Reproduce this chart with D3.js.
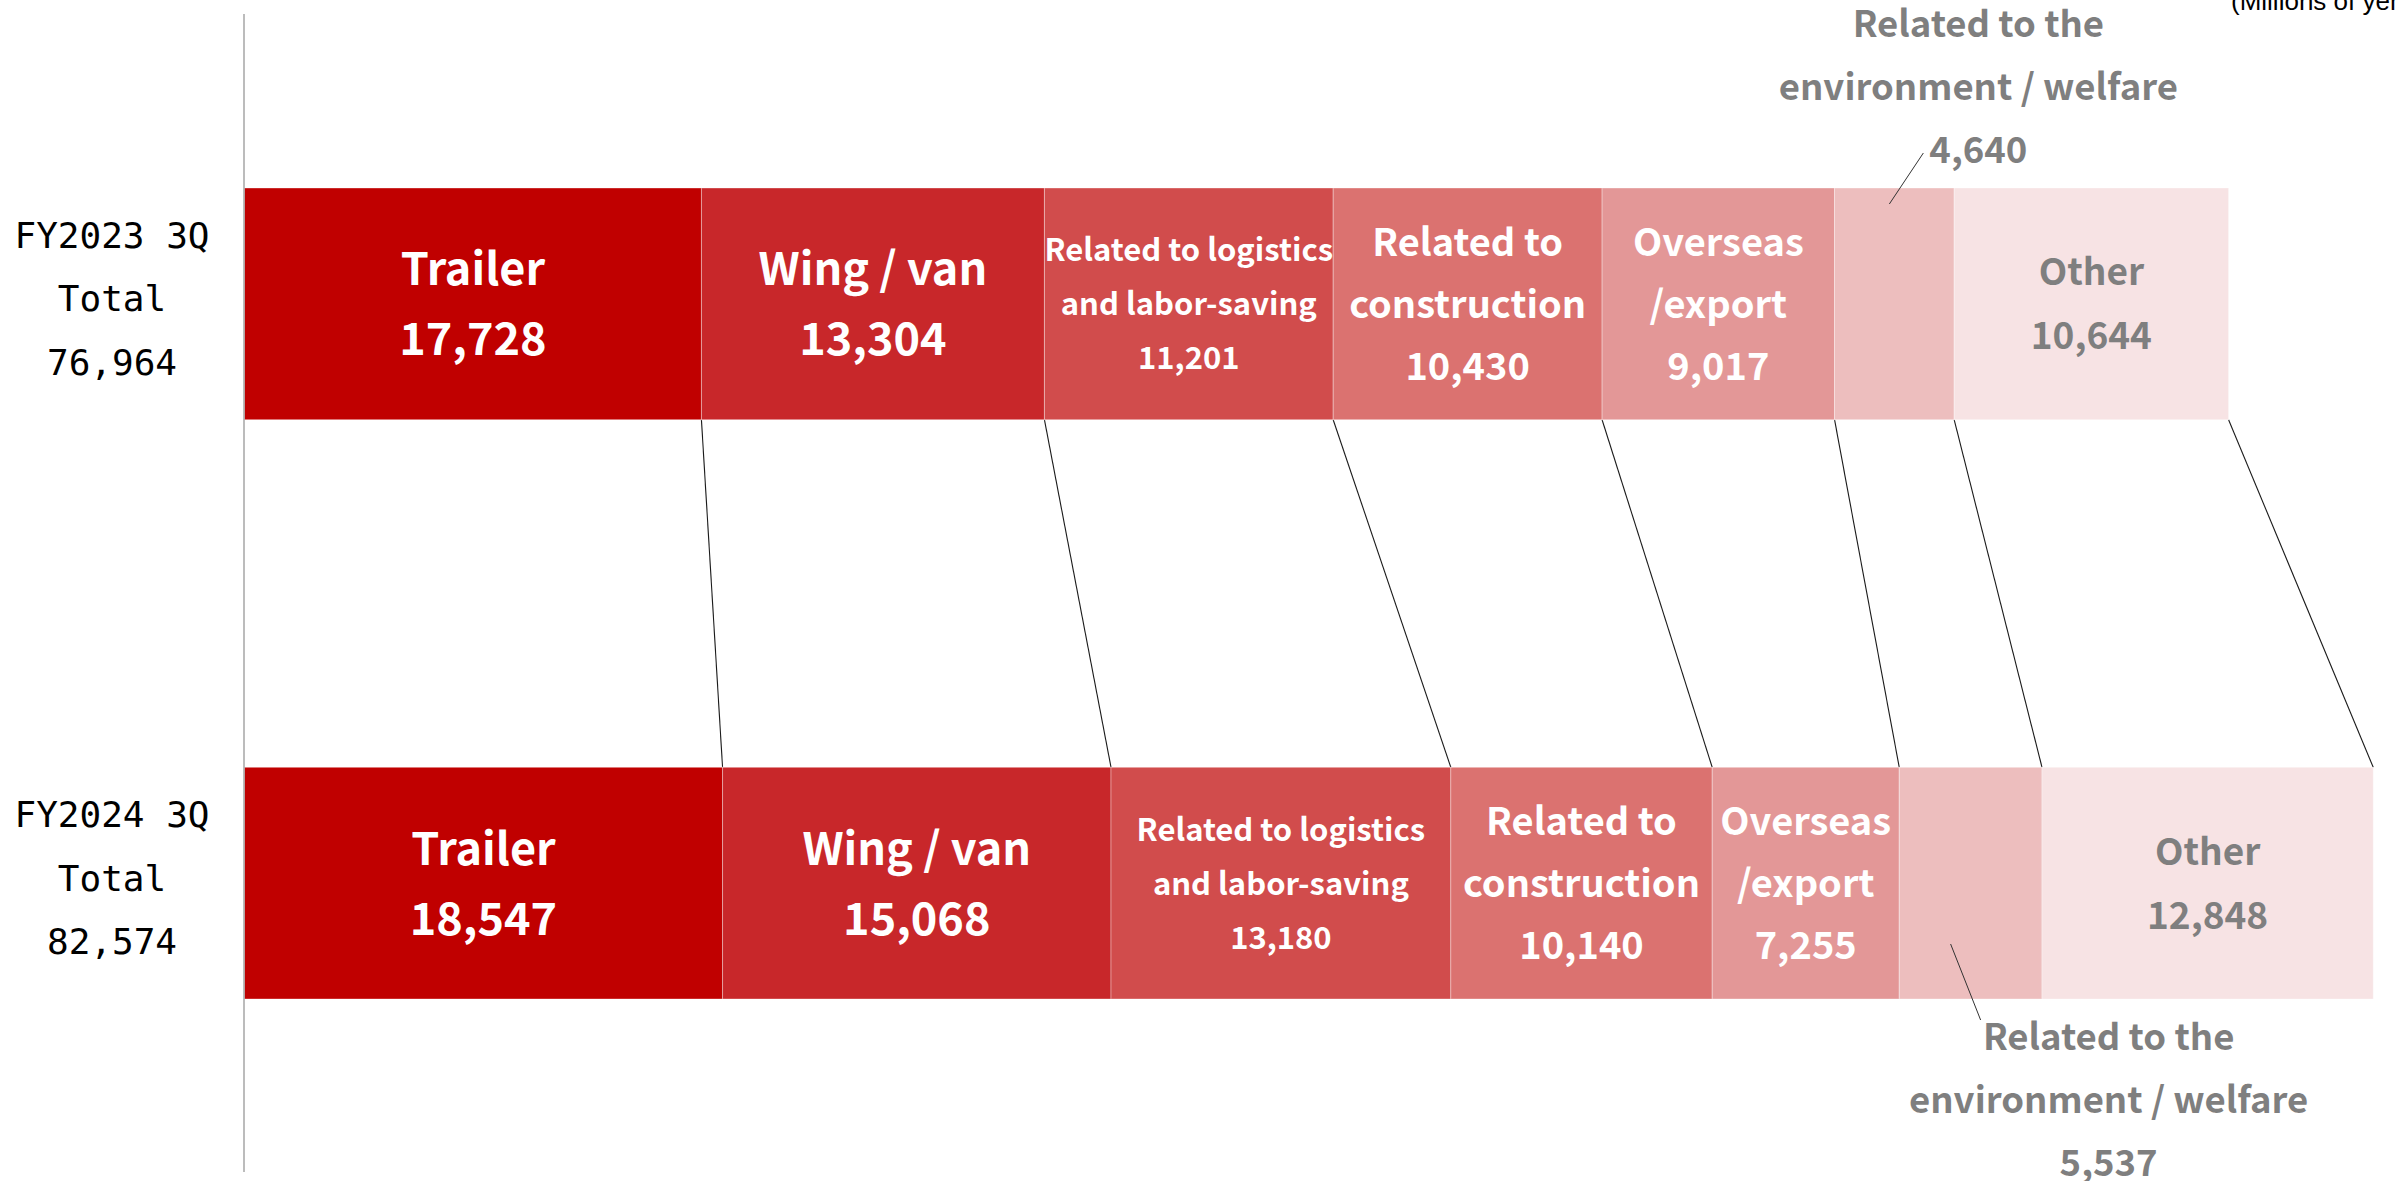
<!DOCTYPE html>
<html>
<head>
<meta charset="utf-8">
<script src="https://cdn.jsdelivr.net/npm/d3@7"></script>
<style>
  html, body { margin: 0; padding: 0; background: #ffffff; }
  svg { display: block; }
</style>
</head>
<body>
<svg id="chart" width="2395" height="1181"></svg>
<script>
// ---------------- DATA ----------------
const periods = ["FY2023 3Q", "FY2024 3Q"];
const totals = [76964, 82574];
const categories = ["Trailer", "Wing / van", "Related to logistics and labor-saving",
  "Related to construction", "Overseas /export", "Related to the environment / welfare", "Other"];
const categoryLines = [
  ["Trailer"],
  ["Wing / van"],
  ["Related to logistics", "and labor-saving"],
  ["Related to", "construction"],
  ["Overseas", "/export"],
  ["Related to the", "environment / welfare"],
  ["Other"]
];
const values2023 = [17728, 13304, 11201, 10430, 9017, 4640, 10644];
const values2024 = [18547, 15068, 13180, 10140, 7255, 5537, 12848];
const unitLabel = "(Millions of yen)";

// ---------------- STYLE ----------------
const colors = ["#C00000", "#C8272A", "#D14C4C", "#DB7270", "#E39797", "#EDBEBE", "#F7E3E4"];
const textColors = ["#fff", "#fff", "#fff", "#fff", "#fff", "#7F7F7F", "#7F7F7F"];
const fontSizes = [45, 45, 31, 38, 38, 36.5, 37];
const lineHeights = [70, 70, 54, 62, 62, 63, 64];
const FONT = "'Noto Sans CJK JP', 'Noto Sans', sans-serif";

const svg = d3.select("#chart");
const series = [values2023, values2024];

const x = d3.scaleLinear().domain([0, d3.max(totals)]).range([244.4, 2373.2]);
const y = d3.scaleBand().domain(periods).range([188, 999]).paddingInner(0.6).paddingOuter(0);

// stacked segments
const stacks = series.map(vals => {
  let acc = 0;
  return vals.map((v, i) => { const s = { i, v, x0: acc, x1: acc + v }; acc += v; return s; });
});

// connector lines between segment right edges
const gConn = svg.append("g");
categories.forEach((c, i) => {
  gConn.append("line")
    .attr("x1", x(stacks[0][i].x1)).attr("y1", y(periods[0]) + y.bandwidth())
    .attr("x2", x(stacks[1][i].x1)).attr("y2", y(periods[1]))
    .attr("stroke", "#1a1a1a").attr("stroke-width", 1.1);
});

// bars
periods.forEach((p, pi) => {
  const g = svg.append("g");
  g.selectAll("rect").data(stacks[pi]).join("rect")
    .attr("x", d => x(d.x0))
    .attr("y", y(p))
    .attr("width", d => x(d.x1) - x(d.x0))
    .attr("height", y.bandwidth())
    .attr("fill", d => colors[d.i])
    .attr("stroke", "#ffffff").attr("stroke-opacity", 0.35).attr("stroke-width", 1);
});

// axis line (category axis without ticks)
svg.append("line")
  .attr("x1", 244).attr("x2", 244).attr("y1", 14).attr("y2", 1172)
  .attr("stroke", "#A6A6A6").attr("stroke-width", 1.5);

// labels inside segments
const fmt = d3.format(",");
function drawLabel(lines, cx, firstBaseline, i) {
  const t = svg.append("text")
    .attr("text-anchor", "middle")
    .attr("font-family", FONT).attr("font-weight", 700)
    .attr("font-size", fontSizes[i]).attr("fill", textColors[i]);
  lines.forEach((ln, k) => {
    t.append("tspan").attr("x", cx).attr("y", firstBaseline + k * lineHeights[i]).text(ln);
  });
}

periods.forEach((p, pi) => {
  const cy = y(p) + y.bandwidth() / 2;
  stacks[pi].forEach(d => {
    const lines = categoryLines[d.i].concat([fmt(d.v)]);
    const cx = (x(d.x0) + x(d.x1)) / 2;
    if (d.i === 5) {
      // outside label with leader line
      if (pi === 0) {
        const lx = cx + 84;
        drawLabel(lines, lx, 37, d.i);
        svg.append("line").attr("x1", cx + 29).attr("y1", 153).attr("x2", cx - 5).attr("y2", 204)
          .attr("stroke", "#333").attr("stroke-width", 1);
      } else {
        const lx = cx + 138;
        drawLabel(lines, lx, 1050, d.i);
        svg.append("line").attr("x1", cx - 20).attr("y1", 944).attr("x2", cx + 10).attr("y2", 1020)
          .attr("stroke", "#333").attr("stroke-width", 1);
      }
      return;
    }
    const n = lines.length;
    const cap = fontSizes[d.i] * 0.733;
    const first = cy - (n - 1) * lineHeights[d.i] / 2 + cap / 2;
    drawLabel(lines, cx, first, d.i);
  });
});

// period / total labels on left
periods.forEach((p, pi) => {
  const cy = y(p) + y.bandwidth() / 2;
  const t = svg.append("text").attr("text-anchor", "middle")
    .attr("font-family", "'DejaVu Sans Mono', monospace").attr("font-size", 36).attr("fill", "#000");
  [p, "Total", fmt(totals[pi])].forEach((ln, k) => {
    t.append("tspan").attr("x", 112).attr("y", cy - 56 + k * 63.5).text(ln);
  });
});

// unit label (cut at the top right as in the reference)
svg.append("text").attr("x", 2231).attr("y", 10)
  .attr("font-family", "'Liberation Sans', Arial, sans-serif").attr("font-size", 26)
  .attr("fill", "#000").text(unitLabel);
</script>
</body>
</html>
